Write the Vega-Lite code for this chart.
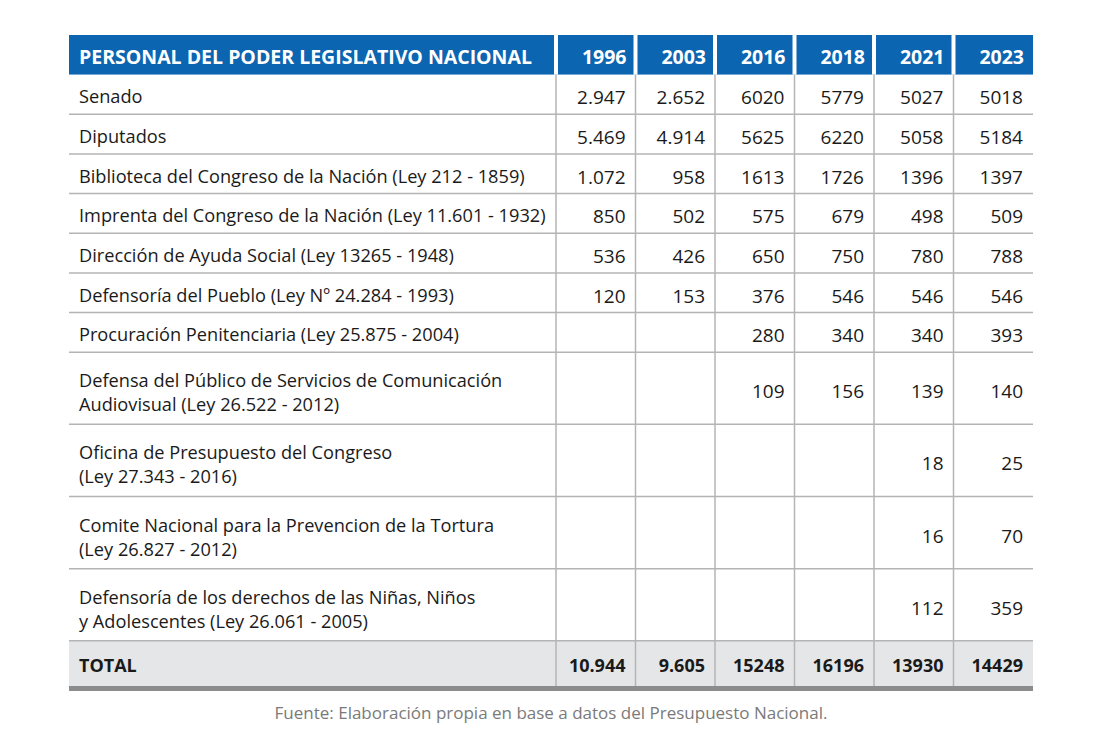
{
  "$schema": "https://vega.github.io/schema/vega-lite/v6.json",
  "padding": {"left": 66, "top": 33, "right": 0, "bottom": 0},
  "autosize": {"type": "pad"},
  "bounds": "flush",
  "spacing": 0,
  "config": {"view": {"stroke": null}, "font": "Open Sans"},
  "title": {"text": "Fuente: Elaboración propia en base a datos del Presupuesto Nacional.", "orient": "bottom", "anchor": "middle", "fontSize": 17, "fontWeight": "normal", "color": "#7a7a7a", "offset": 15, "font": "Open Sans"},
  "data": {"values": [
    {"order": 0, "kind": "header", "label": ["PERSONAL DEL PODER LEGISLATIVO NACIONAL"], "1996": "1996", "2003": "2003", "2016": "2016", "2018": "2018", "2021": "2021", "2023": "2023"},
    {"order": 1, "kind": "body", "label": ["Senado"], "1996": "2.947", "2003": "2.652", "2016": "6020", "2018": "5779", "2021": "5027", "2023": "5018"},
    {"order": 2, "kind": "body", "label": ["Diputados"], "1996": "5.469", "2003": "4.914", "2016": "5625", "2018": "6220", "2021": "5058", "2023": "5184"},
    {"order": 3, "kind": "body", "label": ["Biblioteca del Congreso de la Nación (Ley 212 - 1859)"], "1996": "1.072", "2003": "958", "2016": "1613", "2018": "1726", "2021": "1396", "2023": "1397"},
    {"order": 4, "kind": "body", "label": ["Imprenta del Congreso de la Nación (Ley 11.601 - 1932)"], "1996": "850", "2003": "502", "2016": "575", "2018": "679", "2021": "498", "2023": "509"},
    {"order": 5, "kind": "body", "label": ["Dirección de Ayuda Social (Ley 13265 - 1948)"], "1996": "536", "2003": "426", "2016": "650", "2018": "750", "2021": "780", "2023": "788"},
    {"order": 6, "kind": "body", "label": ["Defensoría del Pueblo (Ley Nº 24.284 - 1993)"], "1996": "120", "2003": "153", "2016": "376", "2018": "546", "2021": "546", "2023": "546"},
    {"order": 7, "kind": "body", "label": ["Procuración Penitenciaria (Ley 25.875 - 2004)"], "1996": null, "2003": null, "2016": "280", "2018": "340", "2021": "340", "2023": "393"},
    {"order": 8, "kind": "body", "label": ["Defensa del Público de Servicios de Comunicación", "Audiovisual (Ley 26.522 - 2012)"], "1996": null, "2003": null, "2016": "109", "2018": "156", "2021": "139", "2023": "140"},
    {"order": 9, "kind": "body", "label": ["Oficina de Presupuesto del Congreso", "(Ley 27.343 - 2016)"], "1996": null, "2003": null, "2016": null, "2018": null, "2021": "18", "2023": "25"},
    {"order": 10, "kind": "body", "label": ["Comite Nacional para la Prevencion de la Tortura", "(Ley 26.827 - 2012)"], "1996": null, "2003": null, "2016": null, "2018": null, "2021": "16", "2023": "70"},
    {"order": 11, "kind": "body", "label": ["Defensoría de los derechos de las Niñas, Niños", "y Adolescentes (Ley 26.061 - 2005)"], "1996": null, "2003": null, "2016": null, "2018": null, "2021": "112", "2023": "359"},
    {"order": 12, "kind": "total", "label": ["TOTAL"], "1996": "10.944", "2003": "9.605", "2016": "15248", "2018": "16196", "2021": "13930", "2023": "14429"}
  ]},
  "transform": [
    {"calculate": "length(datum.label)", "as": "n"},
    {"calculate": "datum.kind == 'total' ? 1.14 : (datum.n == 2 ? 1.82 : 1)", "as": "h"},
    {"window": [{"op": "sum", "field": "h", "as": "bottom"}], "sort": [{"field": "order"}], "frame": [null, 0]},
    {"calculate": "datum.bottom - datum.h", "as": "top"},
    {"calculate": "(datum.top + datum.bottom) / 2", "as": "mid"}
  ],
  "hconcat": [
    {
      "width": 487,
      "height": 656,
      "layer": [
        {
          "mark": {"type": "rect"},
          "encoding": {
            "x": {"value": 0},
            "x2": {"value": "width"},
            "y": {"field": "top", "type": "quantitative", "scale": {"domain": [0, 16.546], "reverse": true, "nice": false, "zero": false}, "axis": null},
            "y2": {"field": "bottom"},
            "color": {"field": "kind", "type": "nominal", "scale": {"domain": ["header", "body", "total"], "range": ["#0b65b1", "#ffffff", "#e5e6e7"]}, "legend": null}
          }
        },
        {
          "transform": [{"filter": "datum.kind == 'body'"}],
          "mark": {"type": "rule", "color": "#b4b4b4", "strokeWidth": 1.5},
          "encoding": {
            "x": {"value": 0},
            "x2": {"value": "width"},
            "y": {"field": "bottom", "type": "quantitative", "scale": {"domain": [0, 16.546], "reverse": true, "nice": false, "zero": false}, "axis": null}
          }
        },
        {
          "transform": [{"filter": "datum.kind == 'total'"}],
          "mark": {"type": "rule", "color": "#8c8c8c", "strokeWidth": 5, "yOffset": 2.5},
          "encoding": {
            "x": {"value": 0},
            "x2": {"value": "width"},
            "y": {"field": "bottom", "type": "quantitative", "scale": {"domain": [0, 16.546], "reverse": true, "nice": false, "zero": false}, "axis": null}
          }
        },
        {
          "transform": [{"filter": "datum.kind == 'header'"}],
          "mark": {"type": "text", "align": "left", "baseline": "middle", "dx": 10, "dy": 3, "fontSize": 19.5, "fontWeight": "bold", "color": "#ffffff"},
          "encoding": {
            "x": {"value": 0},
            "y": {"field": "mid", "type": "quantitative", "scale": {"domain": [0, 16.546], "reverse": true, "nice": false, "zero": false}, "axis": null},
            "text": {"field": "label"}
          }
        },
        {
          "transform": [{"filter": "datum.kind == 'body' && datum.n == 1"}],
          "mark": {"type": "text", "align": "left", "baseline": "middle", "dx": 10, "dy": 4, "fontSize": 18.2, "lineHeight": 24, "color": "#1a1a1a"},
          "encoding": {
            "x": {"value": 0},
            "y": {"field": "mid", "type": "quantitative", "scale": {"domain": [0, 16.546], "reverse": true, "nice": false, "zero": false}, "axis": null},
            "text": {"field": "label"}
          }
        },
        {
          "transform": [{"filter": "datum.kind == 'body' && datum.n == 2"}],
          "mark": {"type": "text", "align": "left", "baseline": "middle", "dx": 10, "dy": -6, "fontSize": 18.2, "lineHeight": 24, "color": "#1a1a1a"},
          "encoding": {
            "x": {"value": 0},
            "y": {"field": "mid", "type": "quantitative", "scale": {"domain": [0, 16.546], "reverse": true, "nice": false, "zero": false}, "axis": null},
            "text": {"field": "label"}
          }
        },
        {
          "transform": [{"filter": "datum.kind == 'total'"}],
          "mark": {"type": "text", "align": "left", "baseline": "middle", "dx": 10, "dy": 4, "fontSize": 18, "fontWeight": "bold", "color": "#1a1a1a"},
          "encoding": {
            "x": {"value": 0},
            "y": {"field": "mid", "type": "quantitative", "scale": {"domain": [0, 16.546], "reverse": true, "nice": false, "zero": false}, "axis": null},
            "text": {"field": "label"}
          }
        }
      ]
    },
    {
      "width": 477,
      "height": 656,
      "transform": [
        {"fold": ["1996", "2003", "2016", "2018", "2021", "2023"], "as": ["year", "value"]}
      ],
      "layer": [
        {
          "mark": {"type": "rect"},
          "encoding": {
            "x": {"field": "year", "type": "ordinal", "sort": ["1996", "2003", "2016", "2018", "2021", "2023"], "scale": {"paddingInner": 0, "paddingOuter": 0}, "axis": null},
            "y": {"field": "top", "type": "quantitative", "scale": {"domain": [0, 16.546], "reverse": true, "nice": false, "zero": false}, "axis": null},
            "y2": {"field": "bottom"},
            "color": {"field": "kind", "type": "nominal", "scale": {"domain": ["header", "body", "total"], "range": ["#0b65b1", "#ffffff", "#e5e6e7"]}, "legend": null}
          }
        },
        {
          "transform": [{"filter": "datum.kind == 'body' && datum.year == '1996'"}],
          "mark": {"type": "rule", "color": "#b4b4b4", "strokeWidth": 1.5},
          "encoding": {
            "x": {"value": 0},
            "x2": {"value": "width"},
            "y": {"field": "bottom", "type": "quantitative", "scale": {"domain": [0, 16.546], "reverse": true, "nice": false, "zero": false}, "axis": null}
          }
        },
        {
          "transform": [{"filter": "datum.kind != 'header'"}],
          "mark": {"type": "rule", "color": "#b4b4b4", "strokeWidth": 1.5},
          "encoding": {
            "x": {"field": "year", "type": "ordinal", "sort": ["1996", "2003", "2016", "2018", "2021", "2023"], "bandPosition": 0, "axis": null},
            "y": {"field": "top", "type": "quantitative", "scale": {"domain": [0, 16.546], "reverse": true, "nice": false, "zero": false}, "axis": null},
            "y2": {"field": "bottom"}
          }
        },
        {
          "transform": [{"filter": "datum.kind == 'header'"}],
          "mark": {"type": "rule", "color": "#ffffff", "strokeWidth": 4},
          "encoding": {
            "x": {"field": "year", "type": "ordinal", "sort": ["1996", "2003", "2016", "2018", "2021", "2023"], "bandPosition": 0, "axis": null},
            "y": {"field": "top", "type": "quantitative", "scale": {"domain": [0, 16.546], "reverse": true, "nice": false, "zero": false}, "axis": null},
            "y2": {"field": "bottom"}
          }
        },
        {
          "transform": [{"filter": "datum.kind == 'total' && datum.year == '1996'"}],
          "mark": {"type": "rule", "color": "#8c8c8c", "strokeWidth": 5, "yOffset": 2.5},
          "encoding": {
            "x": {"value": 0},
            "x2": {"value": "width"},
            "y": {"field": "bottom", "type": "quantitative", "scale": {"domain": [0, 16.546], "reverse": true, "nice": false, "zero": false}, "axis": null}
          }
        },
        {
          "transform": [{"filter": "datum.kind == 'header'"}],
          "mark": {"type": "text", "align": "right", "baseline": "middle", "dx": -9, "dy": 3, "fontSize": 19.5, "fontWeight": "bold", "color": "#ffffff"},
          "encoding": {
            "x": {"field": "year", "type": "ordinal", "sort": ["1996", "2003", "2016", "2018", "2021", "2023"], "bandPosition": 1, "axis": null},
            "y": {"field": "mid", "type": "quantitative", "scale": {"domain": [0, 16.546], "reverse": true, "nice": false, "zero": false}, "axis": null},
            "text": {"field": "value"}
          }
        },
        {
          "transform": [{"filter": "datum.kind == 'body' && datum.value != null"}],
          "mark": {"type": "text", "align": "right", "baseline": "middle", "dx": -10, "dy": 4, "fontSize": 19, "color": "#1a1a1a"},
          "encoding": {
            "x": {"field": "year", "type": "ordinal", "sort": ["1996", "2003", "2016", "2018", "2021", "2023"], "bandPosition": 1, "axis": null},
            "y": {"field": "mid", "type": "quantitative", "scale": {"domain": [0, 16.546], "reverse": true, "nice": false, "zero": false}, "axis": null},
            "text": {"field": "value"}
          }
        },
        {
          "transform": [{"filter": "datum.kind == 'total'"}],
          "mark": {"type": "text", "align": "right", "baseline": "middle", "dx": -10, "dy": 4, "fontSize": 18, "fontWeight": "bold", "color": "#1a1a1a"},
          "encoding": {
            "x": {"field": "year", "type": "ordinal", "sort": ["1996", "2003", "2016", "2018", "2021", "2023"], "bandPosition": 1, "axis": null},
            "y": {"field": "mid", "type": "quantitative", "scale": {"domain": [0, 16.546], "reverse": true, "nice": false, "zero": false}, "axis": null},
            "text": {"field": "value"}
          }
        }
      ]
    }
  ]
}
